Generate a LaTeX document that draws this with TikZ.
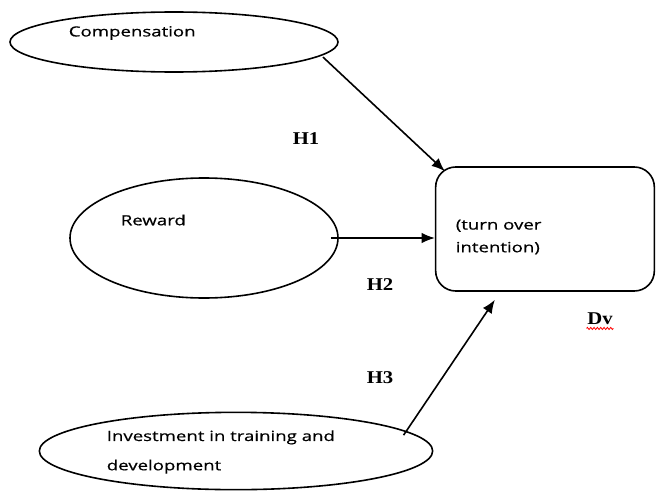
\documentclass[tikz,border=0pt]{standalone}
\usepackage{fontspec}
\newfontfamily\boxfont[FakeStretch=1.33,FakeBold=0.6]{Open Sans}
\newfontfamily\hypfont[FakeStretch=1.15]{Liberation Serif}
\usetikzlibrary{shapes,arrows.meta,positioning,decorations.pathmorphing}

\begin{document}
\begin{tikzpicture}[x=0.75pt,y=-0.75pt,line width=1.2pt,>={Latex[length=10pt,width=8pt]},
	var/.style={draw,ellipse,inner sep=0pt},
	lbl/.style={font=\boxfont\fontsize{10.5}{17}\selectfont,anchor=west,align=left,inner sep=0pt},
	hyp/.style={font=\hypfont\bfseries\fontsize{13.5}{16}\selectfont,inner sep=0pt}]
	\useasboundingbox (0,0) rectangle (656,492);

	% independent variables
	\node[var,minimum width=246pt,minimum height=45pt] (comp) at (174,42) {};
	\node[var,minimum width=201pt,minimum height=90pt] (reward) at (204,238) {};
	\node[var,minimum width=295pt,minimum height=58pt] (invest) at (236,451) {};
	\node[lbl] (comptxt) at (68,33) {Compensation};
	\node[lbl] (rewardtxt) at (120,220) {Reward};
	\node[lbl] (investtxt) at (106,452) {Investment in training and\\[5pt] development};

	% dependent variable
	\node[draw,rounded corners=15pt,minimum width=164pt,minimum height=93pt] (turnover) at (545,229) {};
	\node[lbl] (turntxt) at (455,237) {(turn over\\ intention)};

	\path[->]
		([xshift=4pt]comp.-6) edge ([xshift=7.5pt,yshift=-3.75pt]turnover.north west)
		([xshift=-6pt]reward.east) edge (reward.east -| turnover.west)
		([xshift=-10pt]invest.5) edge ([xshift=45pt,yshift=-6pt]turnover.south west);

	\node[hyp] (h1) at (306,139) {H1};
	\node[hyp] (h2) at (380,285) {H2};
	\node[hyp] (h3) at (380,378) {H3};
	\node[hyp] (dv) at (600,319) {Dv};
	\draw[red,line width=0.6pt,decorate,decoration={zigzag,amplitude=0.8pt,segment length=2.5pt}]
		([yshift=-2pt]dv.south west) -- ([yshift=-2pt]dv.south east);
\end{tikzpicture}
\end{document}
